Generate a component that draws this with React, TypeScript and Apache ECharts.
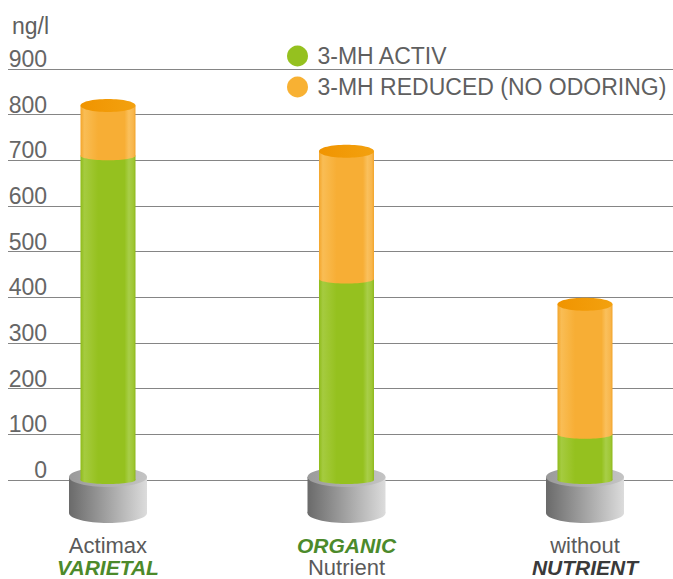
import React, { useEffect, useRef } from "react";
import * as echarts from "echarts";

// ---- data ----
const categoryTop = ["Actimax", "ORGANIC", "without"];
const categoryBottom = ["VARIETAL", "Nutrient", "NUTRIENT"];
const categoryTopStyle = ["reg", "green", "reg"];
const categoryBottomStyle = ["green", "reg", "dark"];
const activValues = [710, 440, 100];
const reducedValues = [110, 280, 285];
const seriesNames = ["3-MH ACTIV", "3-MH REDUCED (NO ODORING)"];
const yTicks = [0, 100, 200, 300, 400, 500, 600, 700, 800, 900];
const yUnit = "ng/l";

const FONT = "'Liberation Sans', Arial, sans-serif";

export default function App() {
  const ref = useRef<HTMLDivElement>(null);

  useEffect(() => {
    if (!ref.current) return;
    const chart = echarts.init(ref.current, undefined, { renderer: "svg" });
    const LG = echarts.graphic.LinearGradient;

    const greenGrad = () =>
      new LG(0, 0, 1, 0, [
        { offset: 0, color: "#8FBB1A" },
        { offset: 0.07, color: "#A5CB40" },
        { offset: 0.22, color: "#9CC52B" },
        { offset: 0.32, color: "#95C11F" },
        { offset: 0.8, color: "#95C11F" },
        { offset: 0.88, color: "#A8CE48" },
        { offset: 0.96, color: "#9FC734" },
        { offset: 1, color: "#8DB81B" },
      ]);
    const orangeGrad = () =>
      new LG(0, 0, 1, 0, [
        { offset: 0, color: "#F3A52A" },
        { offset: 0.07, color: "#F9BD55" },
        { offset: 0.22, color: "#F8B441" },
        { offset: 0.32, color: "#F7AE35" },
        { offset: 0.8, color: "#F7AE35" },
        { offset: 0.88, color: "#FAC05C" },
        { offset: 0.96, color: "#F8B64C" },
        { offset: 1, color: "#F2A42A" },
      ]);
    const orangeTop = () =>
      new LG(0, 0, 1, 0, [
        { offset: 0, color: "#F09400" },
        { offset: 1, color: "#F3A10F" },
      ]);
    const sideGrad = () =>
      new LG(0, 0, 1, 0, [
        { offset: 0, color: "#6A6A6A" },
        { offset: 1, color: "#DCDCDC" },
      ]);
    const pedTop = () =>
      new LG(0, 0, 1, 0, [
        { offset: 0, color: "#9A9A9A" },
        { offset: 1, color: "#C4C4C4" },
      ]);

    const HW = 27.5;

    const textStyles: any = {
      reg: { fontFamily: FONT, fontSize: 22, fill: "#5A5A5A", color: "#5A5A5A", lineHeight: 22 },
      green: { fontFamily: FONT, fontSize: 21, fill: "#4C8A2B", color: "#4C8A2B", fontWeight: "bold", fontStyle: "italic", lineHeight: 22 },
      dark: { fontFamily: FONT, fontSize: 21, fill: "#3A3A3A", color: "#3A3A3A", fontWeight: "bold", fontStyle: "italic", lineHeight: 22 },
    };

    chart.setOption({
      animation: false,
      legend: {
        orient: "vertical",
        left: 282,
        top: 39.5,
        itemWidth: 26,
        itemHeight: 21,
        itemGap: 8,
        icon: "circle",
        data: seriesNames,
        textStyle: { fontFamily: FONT, fontSize: 23, color: "#5F5F5F", lineHeight: 21, padding: [0, 0, 0, 2] },
      },
      grid: [
        { left: 8, right: 0, top: 69, bottom: 99 },
        { left: 0, right: 0, top: 69, bottom: 99 },
      ],
      xAxis: [
        { type: "value", gridIndex: 0, show: false, min: 0, max: 1 },
        { type: "value", gridIndex: 1, show: false, min: -0.4528, max: 2.369 },
      ],
      yAxis: [
        {
          type: "value",
          gridIndex: 0,
          min: yTicks[0],
          max: yTicks[yTicks.length - 1],
          interval: 100,
          name: yUnit,
          nameLocation: "end",
          nameGap: 34,
          nameTextStyle: {
            fontFamily: FONT,
            fontSize: 23,
            color: "#5F5F5F",
            align: "left",
            verticalAlign: "bottom",
            lineHeight: 19,
            padding: [0, 0, 0, 4],
          },
          axisLine: { show: false },
          axisTick: { show: false },
          splitLine: { show: true, lineStyle: { color: "#858585", width: 1.2 } },
          axisLabel: {
            margin: -39,
            align: "right",
            verticalAlign: "bottom",
            lineHeight: 20,
            fontFamily: FONT,
            fontSize: 23,
            color: "#666666",
          },
        },
        { type: "value", gridIndex: 1, min: 0, max: 900, show: false },
      ],
      series: [
        {
          type: "custom",
          name: seriesNames[0],
          xAxisIndex: 1,
          yAxisIndex: 1,
          itemStyle: { color: "#95C11F" },
          encode: { x: 0, y: 1 },
          data: activValues.map((v, i) => [i, v]),
          renderItem: (params: any, api: any) => {
            const i = api.value(0);
            const v = api.value(1);
            const base = api.coord([i, 0]);
            const top = api.coord([i, v]);
            const cx = base[0];
            const y0 = base[1];
            const idx = params.dataIndex;
            return {
              type: "group",
              children: [
                { type: "rect", shape: { x: cx - 39, y: y0 - 3, width: 78, height: 36 }, style: { fill: sideGrad() } },
                { type: "ellipse", shape: { cx, cy: y0 + 33, rx: 39, ry: 10 }, style: { fill: sideGrad() } },
                { type: "ellipse", shape: { cx, cy: y0 - 3, rx: 39, ry: 10 }, style: { fill: pedTop() } },
                { type: "rect", shape: { x: cx - HW, y: top[1], width: HW * 2, height: y0 - top[1] }, style: { fill: greenGrad() } },
                { type: "ellipse", shape: { cx, cy: y0, rx: HW, ry: 4 }, style: { fill: greenGrad() } },
                {
                  type: "text",
                  x: cx,
                  y: y0 + 54,
                  style: {
                    text: `{${categoryTopStyle[idx]}|${categoryTop[idx]}}\n{${categoryBottomStyle[idx]}|${categoryBottom[idx]}}`,
                    rich: textStyles,
                    align: "center",
                    verticalAlign: "top",
                  },
                },
              ],
            };
          },
        },
        {
          type: "custom",
          name: seriesNames[1],
          xAxisIndex: 1,
          yAxisIndex: 1,
          itemStyle: { color: "#F8B133" },
          encode: { x: 0, y: 2 },
          data: reducedValues.map((v, i) => [i, activValues[i], activValues[i] + v]),
          renderItem: (params: any, api: any) => {
            const i = api.value(0);
            const b = api.value(1);
            const t = api.value(2);
            const pb = api.coord([i, b]);
            const pt = api.coord([i, t]);
            const cx = pb[0];
            return {
              type: "group",
              children: [
                { type: "rect", shape: { x: cx - HW, y: pt[1], width: HW * 2, height: pb[1] - pt[1] }, style: { fill: orangeGrad() } },
                { type: "ellipse", shape: { cx, cy: pb[1], rx: HW, ry: 4.5 }, style: { fill: orangeGrad() } },
                { type: "ellipse", shape: { cx, cy: pt[1], rx: HW, ry: 6.5 }, style: { fill: orangeTop() } },
              ],
            };
          },
        },
      ],
    });

    return () => chart.dispose();
  }, []);

  return (
    <div
      ref={ref}
      style={{ position: "absolute", left: 0, top: 0, width: 673, height: 579, background: "#ffffff" }}
    />
  );
}
